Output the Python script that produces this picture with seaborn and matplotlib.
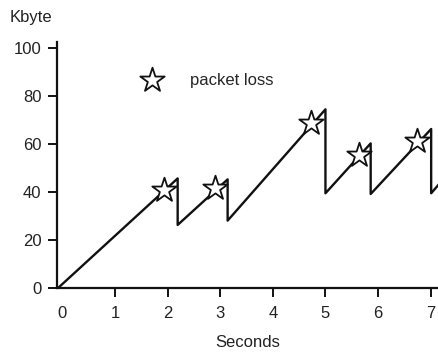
import matplotlib
matplotlib.use("Agg")
import matplotlib.pyplot as plt
import seaborn as sns
import pandas as pd

# congestion window sawtooth (seconds, Kbyte)
seconds = [-0.09, 2.19, 2.19, 3.14, 3.14, 5.0, 5.0, 5.86, 5.86, 7.01, 7.01, 7.3]
kbyte = [0.0, 45.8, 26.4, 45.4, 28.2, 74.6, 39.6, 60.4, 39.3, 66.4, 39.6, 47.0]

# packet loss markers
loss_seconds = [1.93, 2.90, 4.72, 5.63, 6.74]
loss_kbyte = [41.0, 41.7, 68.7, 55.5, 61.5]

x_ticks = [0, 1, 2, 3, 4, 5, 6, 7]
y_ticks = [0, 20, 40, 60, 80, 100]

sns.set_style("ticks")
plt.rcParams['font.family'] = ['Liberation Sans', 'DejaVu Sans']

line_df = pd.DataFrame({'t': seconds, 'w': kbyte})
loss_df = pd.DataFrame({'t': loss_seconds, 'w': loss_kbyte})

fig = plt.figure(figsize=(4.38, 3.52), dpi=100)
ax = fig.add_axes([0.131, 0.181, 0.869, 0.7])

sns.lineplot(data=line_df, x='t', y='w', sort=False, estimator=None,
             color='#111111', linewidth=1.7, ax=ax, zorder=2)
sns.scatterplot(data=loss_df, x='t', y='w', marker='*', s=340,
                facecolor='white', edgecolor='#111111', linewidth=1.3,
                ax=ax, zorder=3, label='packet loss')

ax.set_xlim(-0.097, 7.14)
ax.set_ylim(0, 102.7)
ax.set_xticks(x_ticks)
ax.set_yticks(y_ticks)
ax.xaxis.get_major_ticks()[0].tick1line.set_visible(False)
ax.tick_params(axis='both', direction='out', length=6.5, width=1.4,
               labelsize=12, colors='#111111', labelcolor='#222222')
ax.tick_params(axis='x', pad=6)
ax.tick_params(axis='y', pad=5)

for side in ['top', 'right']:
    ax.spines[side].set_visible(False)
for side in ['left', 'bottom']:
    ax.spines[side].set_linewidth(1.6)
    ax.spines[side].set_color('#111111')

ax.set_xlabel('Seconds', fontsize=12, color='#222222', labelpad=10)
ax.set_ylabel('')
fig.text(0.022, 0.95, 'Kbyte', fontsize=12, color='#222222', va='center', ha='left')

leg = ax.legend(loc='center left', bbox_to_anchor=(1.38, 86.8),
                bbox_transform=ax.transData, frameon=False, fontsize=12,
                handletextpad=1.32, borderaxespad=0, borderpad=0)

fig.savefig('out.png', dpi=100)
